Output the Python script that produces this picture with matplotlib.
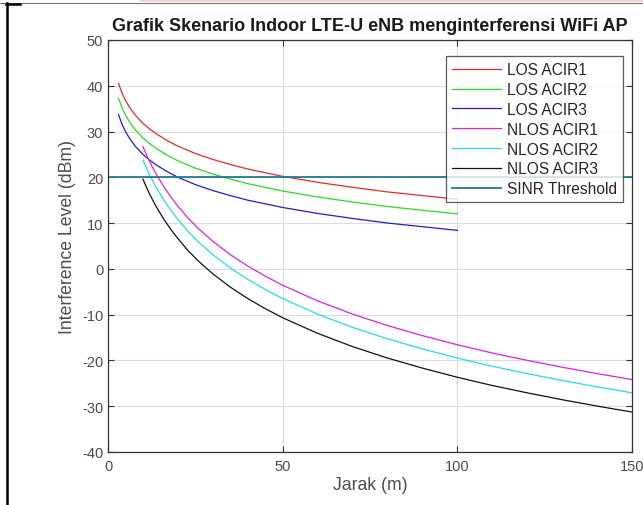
import matplotlib
matplotlib.use("Agg")
import matplotlib.pyplot as plt
from matplotlib.lines import Line2D
from matplotlib.patches import Rectangle

# ---- data ----
los_distance = [3, 4, 5, 6, 7, 8, 10, 12, 14, 17, 20, 25, 30, 35, 40, 50, 60, 70, 80, 90, 100]
los_acir1 = [40.5, 38.4, 36.8, 35.5, 34.4, 33.4, 31.8, 30.5, 29.4, 28.0, 26.8, 25.2, 23.9, 22.8, 21.8, 20.2, 18.9, 17.8, 16.8, 16.0, 15.2]
los_acir2 = [37.3, 35.2, 33.6, 32.3, 31.2, 30.2, 28.6, 27.3, 26.2, 24.8, 23.6, 22.0, 20.7, 19.6, 18.6, 17.0, 15.7, 14.6, 13.6, 12.8, 12.0]
los_acir3 = [33.7, 31.6, 30.0, 28.7, 27.6, 26.6, 25.0, 23.7, 22.6, 21.2, 20.0, 18.4, 17.1, 16.0, 15.0, 13.4, 12.1, 11.0, 10.0, 9.2, 8.4]

nlos_distance = [10, 11, 12, 13, 14, 16, 18, 20, 23, 26, 30, 35, 40, 45, 50, 60, 70, 80, 90, 100, 110, 120, 130, 140, 150]
nlos_acir1 = [26.7, 24.9, 23.3, 21.8, 20.4, 17.9, 15.7, 13.7, 11.0, 8.7, 6.0, 3.1, 0.6, -1.6, -3.6, -7.0, -9.9, -12.4, -14.6, -16.6, -18.4, -20.0, -21.5, -22.9, -24.2]
nlos_acir2 = [23.8, 22.0, 20.4, 18.9, 17.5, 15.0, 12.8, 10.8, 8.1, 5.8, 3.1, 0.2, -2.3, -4.5, -6.5, -9.9, -12.8, -15.3, -17.5, -19.5, -21.3, -22.9, -24.4, -25.8, -27.1]
nlos_acir3 = [19.6, 17.8, 16.2, 14.7, 13.3, 10.8, 8.6, 6.6, 3.9, 1.6, -1.1, -4.0, -6.5, -8.7, -10.7, -14.1, -17.0, -19.5, -21.7, -23.7, -25.5, -27.1, -28.6, -30.0, -31.3]

threshold_distance = [0, 150]
threshold_level = [20, 20]

series_labels = ["LOS ACIR1", "LOS ACIR2", "LOS ACIR3", "NLOS ACIR1", "NLOS ACIR2", "NLOS ACIR3", "SINR Threshold"]
x_ticks = [0, 50, 100, 150]
y_ticks = [-40, -30, -20, -10, 0, 10, 20, 30, 40, 50]

# ---- figure ----
plt.rcParams['font.family'] = ['Liberation Sans', 'DejaVu Sans']
plt.rcParams['axes.unicode_minus'] = False
fig = plt.figure(figsize=(6.43, 5.06), dpi=100)
ax = fig.add_axes([0.168, 0.105, 0.815, 0.814])

lw = 0.9
ax.plot(los_distance, los_acir1, color='#e8282b', lw=lw, label=series_labels[0])
ax.plot(los_distance, los_acir2, color='#22dd22', lw=lw, label=series_labels[1])
ax.plot(los_distance, los_acir3, color='#2020c8', lw=lw, label=series_labels[2])
ax.plot(nlos_distance, nlos_acir1, color='#e020e0', lw=lw, label=series_labels[3])
ax.plot(nlos_distance, nlos_acir2, color='#20e0e0', lw=lw, label=series_labels[4])
ax.plot(nlos_distance, nlos_acir3, color='#111111', lw=lw, label=series_labels[5])
ax.plot(threshold_distance, threshold_level, color='#1f7a92', lw=1.3, label=series_labels[6])

ax.set_xlim(0, 150)
ax.set_ylim(-40, 50)
ax.set_xticks(x_ticks)
ax.set_yticks(y_ticks)
ax.grid(True, color='#dcdcdc', lw=0.8)
ax.set_axisbelow(True)
ax.tick_params(direction='in', length=4, width=0.8, colors='#333333', labelsize=10.5, labelcolor='#4d4d4d',
               top=True, right=True)
ax.tick_params(axis='x', pad=5)
for s in ax.spines.values():
    s.set_color('#333333')
    s.set_linewidth(0.9)

ax.set_title("Grafik Skenario Indoor LTE-U eNB menginterferensi WiFi AP", fontsize=13,
             fontweight='bold', color='#1a1a1a', pad=7)
ax.set_xlabel("Jarak (m)", fontsize=12.7, color='#4d4d4d', labelpad=2)
ax.set_ylabel("Interference Level (dBm)", fontsize=12.7, color='#4d4d4d')
ax.yaxis.set_label_coords(-0.061, 0.524)

leg = ax.legend(loc='upper right', bbox_to_anchor=(0.983, 0.961), borderaxespad=0,
                fontsize=11.2, frameon=True, fancybox=False, edgecolor='#333333',
                handlelength=3.1, handletextpad=0.4, labelspacing=0.31, borderpad=0.4)
leg.get_frame().set_linewidth(0.9)
for t in leg.get_texts():
    t.set_color('#262626')

# page decoration around the picture (border of a document cell)
fig.add_artist(Rectangle((140 / 643, 1 - 3 / 506), 503 / 643, 3 / 506, transform=fig.transFigure,
                         facecolor='#f9d2d2', edgecolor='none'))
fig.add_artist(Line2D([0, 1], [1 - 4 / 506, 1 - 4 / 506], transform=fig.transFigure, color='#555555', lw=0.6))
fig.add_artist(Line2D([6 / 643, 20 / 643], [1 - 4.5 / 506, 1 - 4.5 / 506], transform=fig.transFigure, color='black', lw=1.8))
fig.add_artist(Line2D([7 / 643, 7 / 643], [0, 1 - 4 / 506], transform=fig.transFigure, color='black', lw=1.8))

fig.savefig("out.png", dpi=100)
